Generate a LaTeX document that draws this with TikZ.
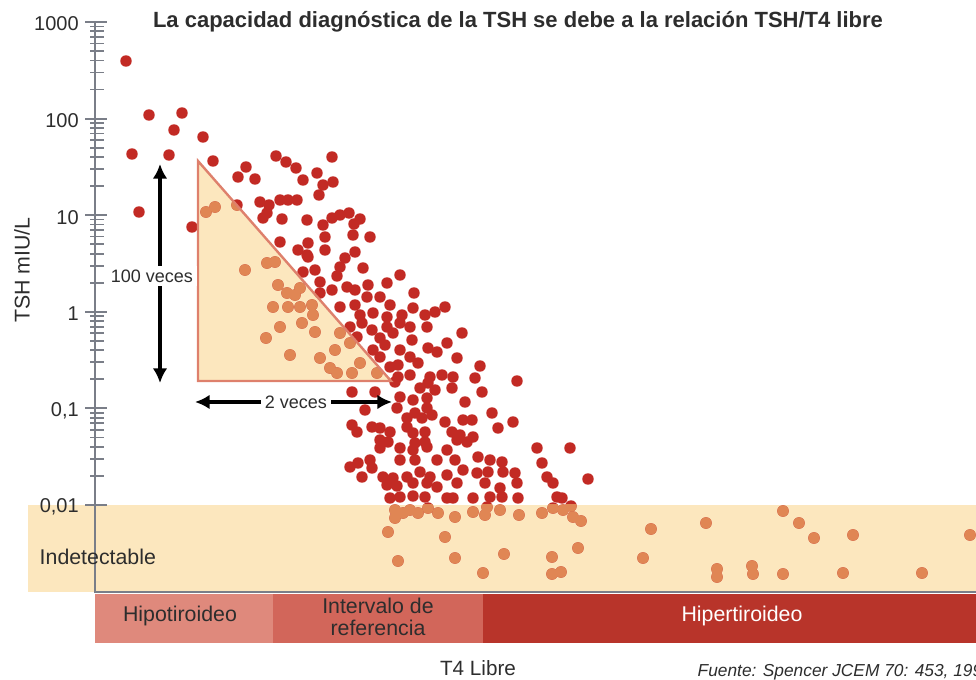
\documentclass[tikz,border=0pt]{standalone}
\usepackage{fontspec}
\setmainfont{Liberation Sans}
\usetikzlibrary{arrows.meta}
\definecolor{tshred}{RGB}{194,42,36}
\definecolor{tshorange}{RGB}{224,134,84}
\definecolor{tshpeach}{RGB}{252,231,190}
\definecolor{tshline}{RGB}{222,128,108}
\definecolor{tshaxis}{RGB}{122,126,136}
\definecolor{hipocol}{RGB}{223,137,124}
\definecolor{intercol}{RGB}{210,102,90}
\definecolor{hipercol}{RGB}{184,52,42}
\definecolor{tshtext}{RGB}{45,45,45}

% pacientes (x/y en pixeles)
\newcommand{\puntosTSH}{126/61, 149/115, 182/113, 174/130, 203/137, 132/154, 169/155, 213/161, 139/212, 192/227,
276/156, 286/162, 296/168, 332/157, 246/167, 238/177, 255/179, 303/180, 317/173, 323/185, 333/182, 319/195,
237/205, 260/202, 269/205, 280/200, 288/200, 297/200, 267/213, 263/218, 282/219, 307/220, 323/225, 332/218,
340/215, 349/213, 360/219, 354/224, 206/212, 215/207,
280/242, 298/250, 308/243, 308/257, 325/237, 325/250, 353/235, 370/237, 355/252, 345/258, 303/272, 315/270,
340/267, 363/268, 320/282, 332/290, 347/287, 355/290, 368/285, 387/283, 320/293, 340/307, 355/305, 367/297,
380/297, 390/305, 360/315, 373/313, 387/317, 350/327, 362/323, 372/330, 387/327, 393/333, 357/337, 380/338,
373/350, 385/345, 380/357, 390/367, 377/373, 395/382, 352/392, 375/392, 337/276, 307/255,
245/270, 267/263, 275/262, 278/285, 287/293, 295/295, 300/288, 273/307, 288/307, 300/307, 312/305, 313/315,
280/327, 302/323, 315/332, 266/338, 290/355, 320/358, 335/350, 340/333, 350/343, 330/368, 337/373, 352/373, 360/363,
400/275, 414/293, 413/308, 402/315, 425/315, 435/312, 445/307, 400/323, 410/327, 427/327, 462/333, 412/340,
447/343, 428/348, 437/352, 457/358, 400/350, 410/357, 398/365, 418/363, 480/366, 398/377, 410/375, 430/377,
442/375, 453/377, 475/378, 517/381, 420/388, 428/383, 435/390, 452/388, 482/392, 400/397, 413/400, 427/398,
465/402, 397/408, 415/413, 427/408, 492/413, 513/422, 407/418, 422/418, 432/415, 445/422, 463/420, 472/420,
407/427, 413/433, 425/432, 452/432, 460/435, 473/437, 498/428, 415/443, 425/442, 457/440, 467/442, 400/448,
413/450, 427/447, 447/450, 537/448, 570/448, 400/460, 415/460, 437/460, 455/460, 478/457, 490/460, 502/462, 542/463,
365/410, 352/425, 357/432, 372/427, 380/428, 390/432, 380/440, 388/442, 380/448, 350/467, 358/463, 370/460, 372/468,
362/477, 383/477, 393/478, 407/477, 420/472, 430/477, 447/475, 463/470, 477/473, 488/472, 503/472, 515/473,
547/477, 588/479, 387/485, 397/486, 413/483, 427/483, 437/487, 457/483, 485/483, 500/488, 517/483, 553/483,
390/498, 400/497, 413/496, 425/497, 447/498, 453/498, 473/498, 490/497, 502/497, 518/498, 557/497, 562/498,
395/510, 395/518, 403/513, 410/510, 418/513, 428/508, 438/513, 455/517, 473/512, 485/515, 487/507, 500/510,
519/515, 542/513, 553/508, 563/510, 571/506, 573/517, 581/521, 388/532, 445/537, 398/561, 455/558, 504/554,
552/557, 578/548, 483/573, 552/574, 561/572,
651/529, 706/523, 783/511, 799/523, 814/538, 853/535, 970/535, 643/558, 717/569, 717/577, 752/566, 753/574,
783/574, 843/573, 922/573}

\begin{document}
\begin{tikzpicture}[x=0.75pt,y=-0.75pt,
  eje/.style={draw=tshaxis,line width=1.5pt},
  flecha/.style={line width=2.3pt,{Latex[length=11pt,width=11pt]}-{Latex[length=11pt,width=11pt]}},
  etiq/.style={font=\fontsize{15}{16}\selectfont,text=tshtext,inner sep=0pt},
  texto/.style={font=\fontsize{16}{17}\selectfont,text=tshtext}]

\useasboundingbox (0,0) rectangle (976,680);

% zona indetectable y triangulo
\fill[tshpeach] (28,505) rectangle (976,592);
\fill[tshpeach] (198,161) -- (198,381) -- (391,381) -- cycle;

\foreach \x/\y in \puntosTSH \fill[tshred] (\x,\y) circle (4.3pt);
\begin{scope}
\clip (28,505) rectangle (976,592);
\foreach \x/\y in \puntosTSH \fill[tshorange] (\x,\y) circle (4.3pt);
\end{scope}
\begin{scope}
\clip (198,161) -- (198,381) -- (391,381) -- cycle;
\foreach \x/\y in \puntosTSH \fill[tshorange] (\x,\y) circle (4.3pt);
\end{scope}
\draw[tshline,line width=1.8pt,line join=miter] (198,161) -- (198,381) -- (391,381) -- cycle;

% eje logaritmico
\draw[eje] (95,22) -- (95,592) -- (976,592);
\foreach \k/\lab in {0/1000,1/100,2/10,3/1,4/{0,1},5/{0,01}}{
  \draw[eje] (85,{22+96.6*\k}) -- (107,{22+96.6*\k});
  \node[etiq,anchor=east] (tick\k) at (79,{24+96.6*\k}) {\lab};
}
\foreach \k in {0,...,4}
  \foreach \m in {2,...,9}
    \draw[eje,line width=1.3pt] (90,{22+96.6*(\k+1)-96.6*log10(\m)}) -- (104,{22+96.6*(\k+1)-96.6*log10(\m)});

\node[texto,rotate=90] (ylab) at (22,270) {TSH mIU/L};
\node[texto,anchor=west] (indet) at (35,557) {Indetectable};

% flechas
\coordinate (vsup) at (160,164);
\coordinate (vinf) at (160,383);
\draw[flecha] (vsup) -- (vinf);
\node[etiq,fill=white,inner sep=3pt,font=\fontsize{13.5}{15}\selectfont] (cien) at (152,276) {100 veces};
\coordinate (hizq) at (195,402);
\coordinate (hder) at (392,402);
\draw[flecha] (hizq) -- (hder);
\node[etiq,fill=white,inner sep=3pt,font=\fontsize{13.5}{15}\selectfont] (dos) at (296,402) {2 veces};

% barras de T4
\fill[hipocol] (95,594) rectangle (273,643);
\fill[intercol] (273,594) rectangle (483,643);
\fill[hipercol] (483,594) rectangle (976,643);
\node[texto] (hipo) at (180,616) {Hipotiroideo};
\node[texto,align=center] (inter) at (378,617) {Intervalo de\\referencia};
\node[texto,text=white] (hiper) at (742,616) {Hipertiroideo};

\node[texto,font=\fontsize{15.5}{17}\selectfont] (xlab) at (478,668) {T4 Libre};
\node[texto,anchor=west,font=\fontsize{13}{15}\selectfont\itshape] (fuente) at (693,672) {Fuente: Spencer JCEM 70: 453, 1990};

\node[texto,font=\fontsize{16.5}{18}\selectfont\bfseries] (titulo) at (518,22) {La capacidad diagnóstica de la TSH se debe a la relación TSH/T4 libre};
\end{tikzpicture}
\end{document}
